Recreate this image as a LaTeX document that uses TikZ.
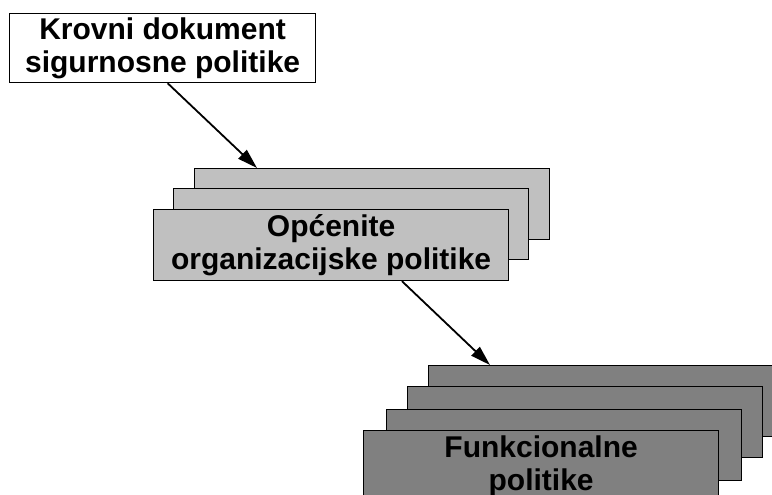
\documentclass[tikz,border=0pt]{standalone}
\usepackage{fontspec}
\setmainfont{Liberation Sans}
\usepackage{tikz}
\usetikzlibrary{calc,arrows.meta}
\definecolor{lightfill}{HTML}{C0C0C0}
\definecolor{darkfill}{HTML}{808080}
\tikzset{
  sheet/.style={draw=black, line width=1.2pt, inner sep=0pt, anchor=north west,
    minimum width=355pt, minimum height=71pt, align=center,
    font=\fontsize{30}{33}\selectfont\bfseries},
  lightsheet/.style={sheet, fill=lightfill},
  darksheet/.style={sheet, fill=darkfill},
  topbox/.style={sheet, fill=white, minimum width=306pt, minimum height=69pt},
  link/.style={draw=black, line width=1.8pt, -{Triangle[length=20pt,width=12pt]}},
}

\begin{document}
\begin{tikzpicture}[x=1pt,y=-1pt]
  \clip (0,0) rectangle (772,495);
  \node[topbox] (krovni) at (9,13) {Krovni dokument\\sigurnosne politike};
  % middle stack, back to front
  \node[lightsheet] (opce3) at (194,168) {};
  \node[lightsheet] (opce2) at (173,188) {};
  \node[lightsheet] (opce1) at (153,209) {Općenite\\organizacijske politike};
  % bottom stack, back to front
  \node[darksheet] (funk4) at (428,365) {};
  \node[darksheet] (funk3) at (407,386) {};
  \node[darksheet] (funk2) at (386,409) {};
  \node[darksheet] (funk1) at (363,430) {Funkcionalne\\politike};
  \draw[link] ($(krovni.south)+(5,0)$) -- ($(opce3.north west)+(63,0)$);
  \draw[link] ($(opce1.south west)+(249,0)$) -- ($(funk4.north west)+(62,0)$);
\end{tikzpicture}
\end{document}
